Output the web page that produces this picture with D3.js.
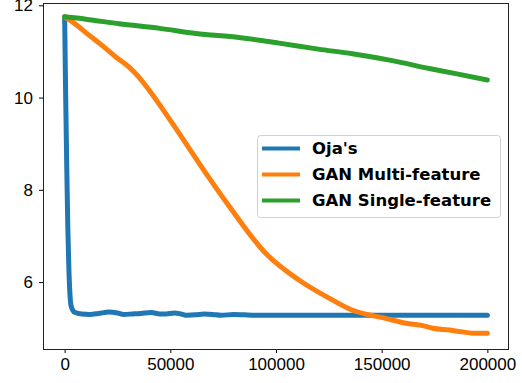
<!DOCTYPE html>
<html>
<head>
<meta charset="utf-8">
<script src="https://cdn.jsdelivr.net/npm/d3@7"></script>
<style>
    body { margin: 0; background: #fff; }
    svg { display: block; font-family: "DejaVu Sans", sans-serif; }
</style>
</head>
<body>
<script>
// series values, [training step, value]
var ojaData = [
    [0, 11.75], [500, 10.0], [1000, 8.5], [1500, 7.2], [2000, 6.3], [2500, 5.75],
    [3000, 5.5], [4000, 5.38], [5000, 5.34], [8000, 5.31], [12000, 5.30], [16000, 5.32],
    [21000, 5.35], [25000, 5.33], [28000, 5.30], [32000, 5.31], [36000, 5.32], [41000, 5.34],
    [45000, 5.31], [48000, 5.31], [52000, 5.33], [55000, 5.31], [58000, 5.28], [62000, 5.29],
    [66000, 5.31], [70000, 5.30], [74000, 5.28], [80000, 5.30], [85000, 5.29], [90000, 5.28],
    [100000, 5.28], [150000, 5.28], [200000, 5.28]
];
var ganMultiData = [
    [0, 11.75], [3700, 11.64], [11600, 11.35], [18000, 11.12], [24200, 10.88], [30500, 10.66],
    [35000, 10.45], [40000, 10.16], [51000, 9.44], [63700, 8.57], [77000, 7.70], [95200, 6.62],
    [111000, 6.04], [126800, 5.61], [136200, 5.39], [143000, 5.30], [150400, 5.23], [161500, 5.11],
    [166000, 5.08], [168000, 5.07], [174100, 5.00], [182000, 4.96], [186700, 4.93], [194600, 4.89],
    [200000, 4.89]
];
var ganSingleData = [
    [0, 11.75], [10000, 11.70], [25800, 11.60], [45000, 11.50], [62100, 11.39], [82600, 11.30],
    [101500, 11.18], [120000, 11.05], [136100, 10.95], [155000, 10.80], [172500, 10.63],
    [185000, 10.52], [200000, 10.38]
];
var seriesNames = ["Oja's", "GAN Multi-feature", "GAN Single-feature"];
var seriesColors = ["#1f77b4", "#ff7f0e", "#2ca02c"];
var xTicks = [0, 50000, 100000, 150000, 200000];
var yTicks = [6, 8, 10, 12];

var width = 522, height = 383;
var plot = {left: 43, right: 508, top: 3, bottom: 349};

var svg = d3.select("body").append("svg")
    .attr("width", width)
    .attr("height", height);

var x = d3.scaleLinear().domain([-10000, 210000]).range([plot.left + 0.5, plot.right + 0.5]);
var y = d3.scaleLinear().domain([4.55, 12.05]).range([plot.bottom, plot.top]);

// lines
var line = d3.line()
    .x(function (d) { return x(d[0]); })
    .y(function (d) { return y(d[1]); })
    .curve(d3.curveMonotoneX);

[ojaData, ganMultiData, ganSingleData].forEach(function (data, i) {
    svg.append("path")
        .datum(data)
        .attr("fill", "none")
        .attr("stroke", seriesColors[i])
        .attr("stroke-width", 5)
        .attr("stroke-linecap", "round")
        .attr("stroke-linejoin", "round")
        .attr("d", line);
});

// axes
svg.append("g")
    .attr("transform", "translate(0," + plot.bottom + ")")
    .call(d3.axisBottom(x).tickValues(xTicks).tickFormat(d3.format("d")).tickSizeInner(4).tickSizeOuter(0).tickPadding(5))
    .call(function (g) {
        g.select(".domain").remove();
        g.selectAll("text").style("font-size", "17px").attr("fill", "#000");
        g.selectAll("line").attr("stroke", "#000");
    });

svg.append("g")
    .attr("transform", "translate(" + plot.left + ",0)")
    .call(d3.axisLeft(y).tickValues(yTicks).tickSizeInner(4).tickSizeOuter(0).tickPadding(6))
    .call(function (g) {
        g.select(".domain").remove();
        g.selectAll("text").style("font-size", "17px").attr("fill", "#000");
        g.selectAll("line").attr("stroke", "#000");
    });

// frame
svg.append("rect")
    .attr("x", plot.left + 0.5)
    .attr("y", plot.top + 0.5)
    .attr("width", plot.right - plot.left)
    .attr("height", plot.bottom - plot.top)
    .attr("fill", "none")
    .attr("stroke", "#222")
    .attr("stroke-width", 1);

// legend
var legend = svg.append("g").attr("transform", "translate(257,135)");
legend.append("rect")
    .attr("x", 0.5).attr("y", 0.5)
    .attr("width", 243).attr("height", 82)
    .attr("rx", 3)
    .attr("fill", "#fff").attr("fill-opacity", 0.8)
    .attr("stroke", "#d0d0d0");

seriesNames.forEach(function (name, i) {
    var ly = 13.5 + i * 26;
    legend.append("line")
        .attr("x1", 5).attr("x2", 43)
        .attr("y1", ly).attr("y2", ly)
        .attr("stroke", seriesColors[i])
        .attr("stroke-width", 4);
    legend.append("text")
        .attr("x", 55).attr("y", ly)
        .attr("dy", "0.35em")
        .style("font-size", "16.5px")
        .style("font-weight", "bold")
        .text(name);
});
</script>
</body>
</html>
